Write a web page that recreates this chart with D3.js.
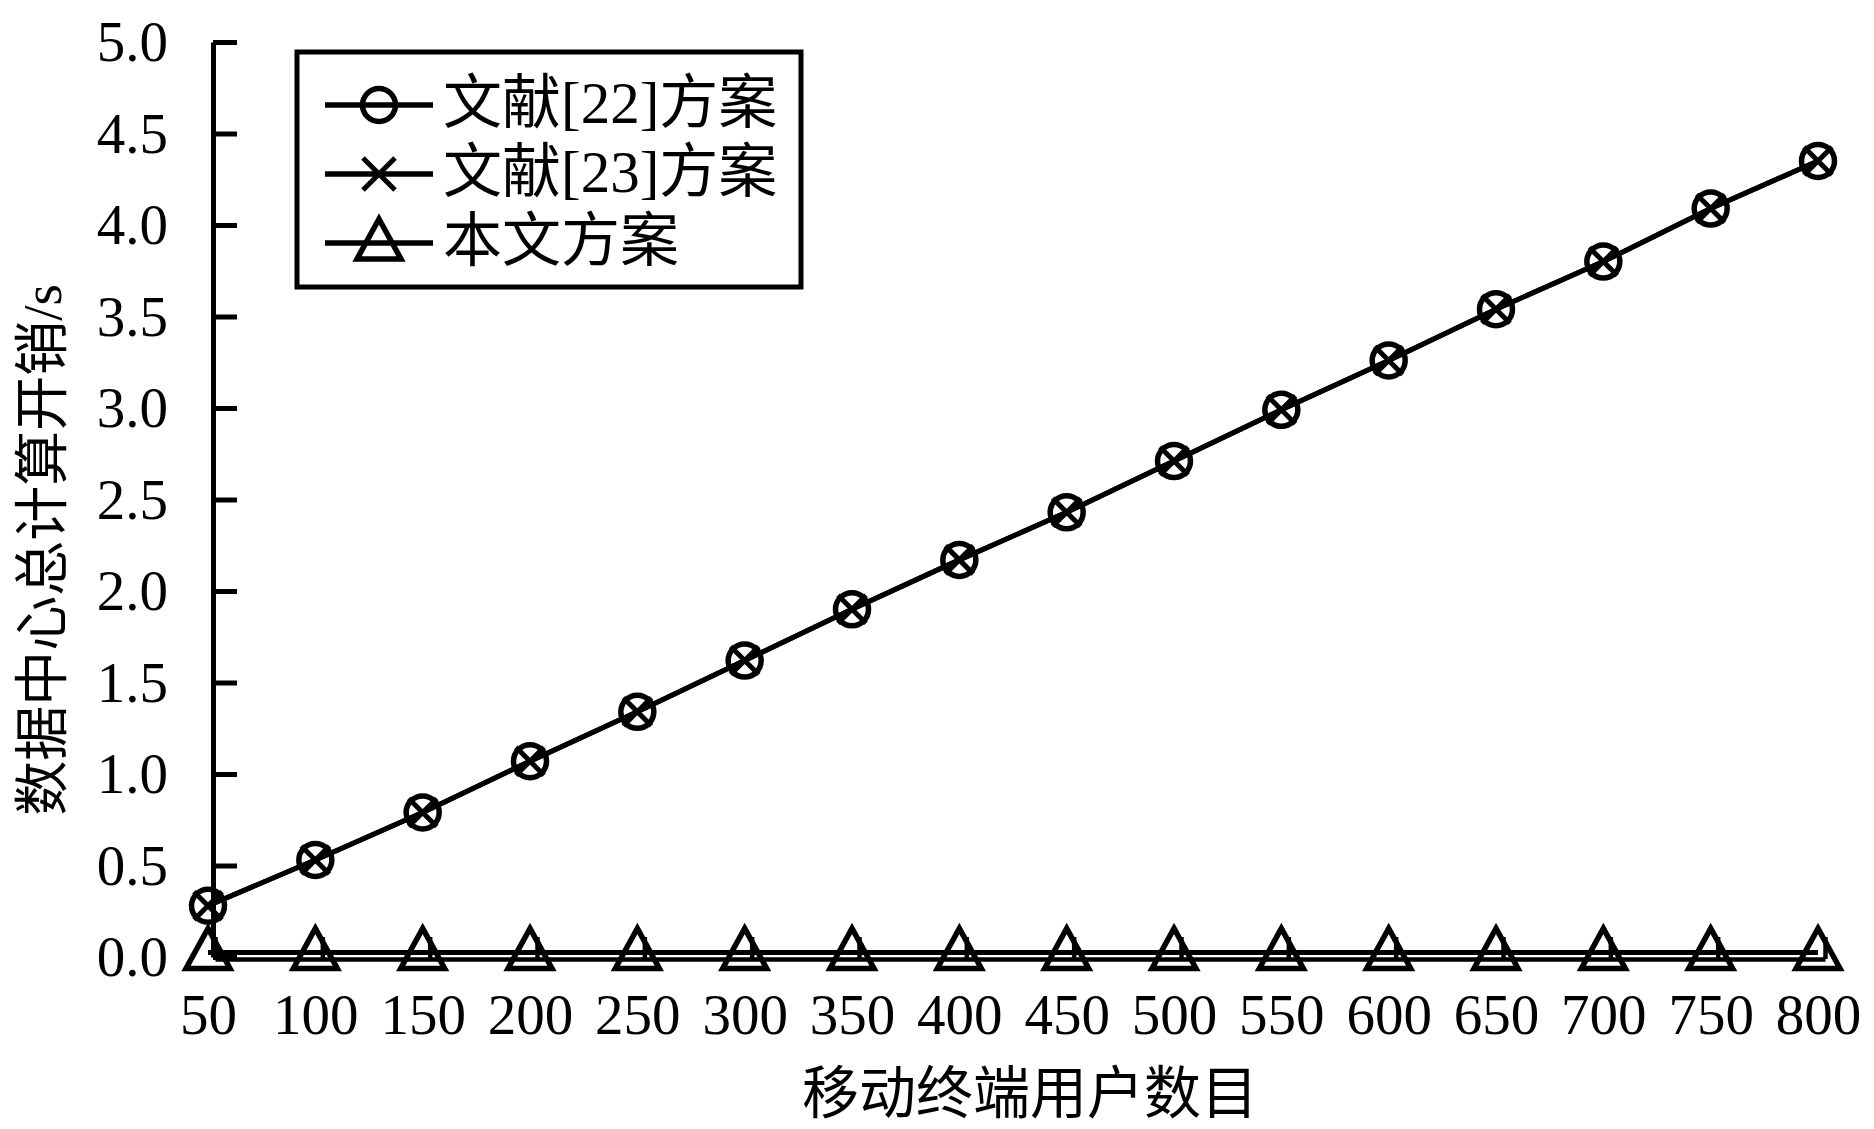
<!DOCTYPE html>
<html><head><meta charset="utf-8">
<script src="https://cdn.jsdelivr.net/npm/d3@7"></script>
<style>body{margin:0;background:#fff}svg{display:block}</style>
</head><body>
<svg id="c" width="1874" height="1129"></svg>
<script>
// ---- data ----
const users = [50,100,150,200,250,300,350,400,450,500,550,600,650,700,750,800];
const ref22 = [0.28,0.53,0.79,1.07,1.34,1.62,1.90,2.17,2.43,2.71,2.99,3.26,3.54,3.80,4.09,4.35];
const ref23 = [0.28,0.53,0.79,1.07,1.34,1.62,1.90,2.17,2.43,2.71,2.99,3.26,3.54,3.80,4.09,4.35];
const ours  = [0.025,0.025,0.025,0.025,0.025,0.025,0.025,0.025,0.025,0.025,0.025,0.025,0.025,0.025,0.025,0.025];
const yTicks = [0,0.5,1,1.5,2,2.5,3,3.5,4,4.5,5];
const xTicks = users;
const seriesNames = ["文献[22]方案","文献[23]方案","本文方案"];
const xTitle = "移动终端用户数目";
const yTitle = "数据中心总计算开销/s";

// ---- layout ----
const svg = d3.select("#c");
const FONT = "'Liberation Serif','Times New Roman','Noto Sans CJK SC',serif";
const FS = 57;
const axisX = 213;
const x = d3.scaleLinear().domain([50,800]).range([208,1818]);
const y = d3.scaleLinear().domain([0,5]).range([957,42]);

// y axis
const gy = svg.append("g").attr("transform",`translate(${axisX},0)`)
  .call(d3.axisLeft(y).tickValues(yTicks).tickFormat(d3.format(".1f"))
        .tickSizeInner(-24).tickSizeOuter(0).tickPadding(45));
gy.select(".domain").attr("stroke","#000").attr("stroke-width",5);
gy.selectAll(".tick line").attr("stroke","#000").attr("stroke-width",5);
gy.selectAll(".tick text").attr("font-family",FONT).attr("font-size",FS).attr("fill","#000").attr("dy","0.33em");

// x axis: ticks (inward), slightly offset from data positions
const gxt = svg.append("g").attr("transform",`translate(7,${y(0)+2})`)
  .call(d3.axisBottom(x).tickValues(xTicks).tickFormat("").tickSizeInner(-22).tickSizeOuter(0));
gxt.select(".domain").attr("stroke","#000").attr("stroke-width",4.5);
gxt.selectAll(".tick line").attr("stroke","#000").attr("stroke-width",4.5);
// x axis labels
const gx = svg.append("g").attr("transform",`translate(0,${y(0)})`)
  .call(d3.axisBottom(x).tickValues(xTicks).tickFormat(d3.format("d")).tickSize(0).tickPadding(37));
gx.select(".domain").remove();
gx.selectAll(".tick text").attr("font-family",FONT).attr("font-size",FS).attr("fill","#000");

// titles
svg.append("text").attr("x",1030).attr("y",1093).attr("text-anchor","middle")
  .attr("dominant-baseline","central").attr("font-family",FONT).attr("font-size",FS).text(xTitle);
svg.append("text").attr("transform","translate(42,550) rotate(-90)").attr("text-anchor","middle")
  .attr("dominant-baseline","central").attr("font-family",FONT).attr("font-size",55).text(yTitle);

// marker shapes
const crossPath = s => `M${-s},${-s}L${s},${s}M${-s},${s}L${s},${-s}`;
const triPath = "M0,-24L22,16L-22,16Z";
function drawMarker(g, kind, cx, cy, legend){
  if(kind==="circle"){
    g.append("circle").attr("cx",cx).attr("cy",cy).attr("r",16.5)
      .attr("fill","none").attr("stroke","#000").attr("stroke-width",5.5);
  } else if(kind==="cross"){
    g.append("path").attr("d",crossPath(legend?16:14)).attr("transform",`translate(${cx},${cy})`)
      .attr("fill","none").attr("stroke","#000").attr("stroke-width",5);
  } else {
    g.append("path").attr("d",triPath).attr("transform",`translate(${cx},${cy})`)
      .attr("fill","none").attr("stroke","#000").attr("stroke-width",5.5).attr("stroke-linejoin","miter");
  }
}

const series = [
  {name:seriesNames[0], values:ref22, kind:"circle"},
  {name:seriesNames[1], values:ref23, kind:"cross"},
  {name:seriesNames[2], values:ours,  kind:"tri"}
];
const line = d3.line().x((d,i)=>x(users[i])).y(d=>y(d));
const gd = svg.append("g");
series.forEach(s=>{
  gd.append("path").datum(s.values).attr("d",line).attr("fill","none")
    .attr("stroke","#000").attr("stroke-width",5);
});
series.forEach(s=>{
  const gm = gd.append("g");
  s.values.forEach((v,i)=>drawMarker(gm, s.kind, x(users[i]), y(v), false));
});

// legend
const lg = svg.append("g");
lg.append("rect").attr("x",297).attr("y",52).attr("width",504).attr("height",235)
  .attr("fill","#fff").attr("stroke","#000").attr("stroke-width",5);
const rowY = [105,174,243];
series.forEach((s,i)=>{
  lg.append("line").attr("x1",325).attr("x2",433).attr("y1",rowY[i]).attr("y2",rowY[i])
    .attr("stroke","#000").attr("stroke-width",5.5);
  drawMarker(lg, s.kind, 379, rowY[i], true);
  lg.append("text").attr("x",443).attr("y",rowY[i]-2).attr("dominant-baseline","central")
    .attr("font-family",FONT).attr("font-size",59).text(s.name);
});
</script>
</body></html>
